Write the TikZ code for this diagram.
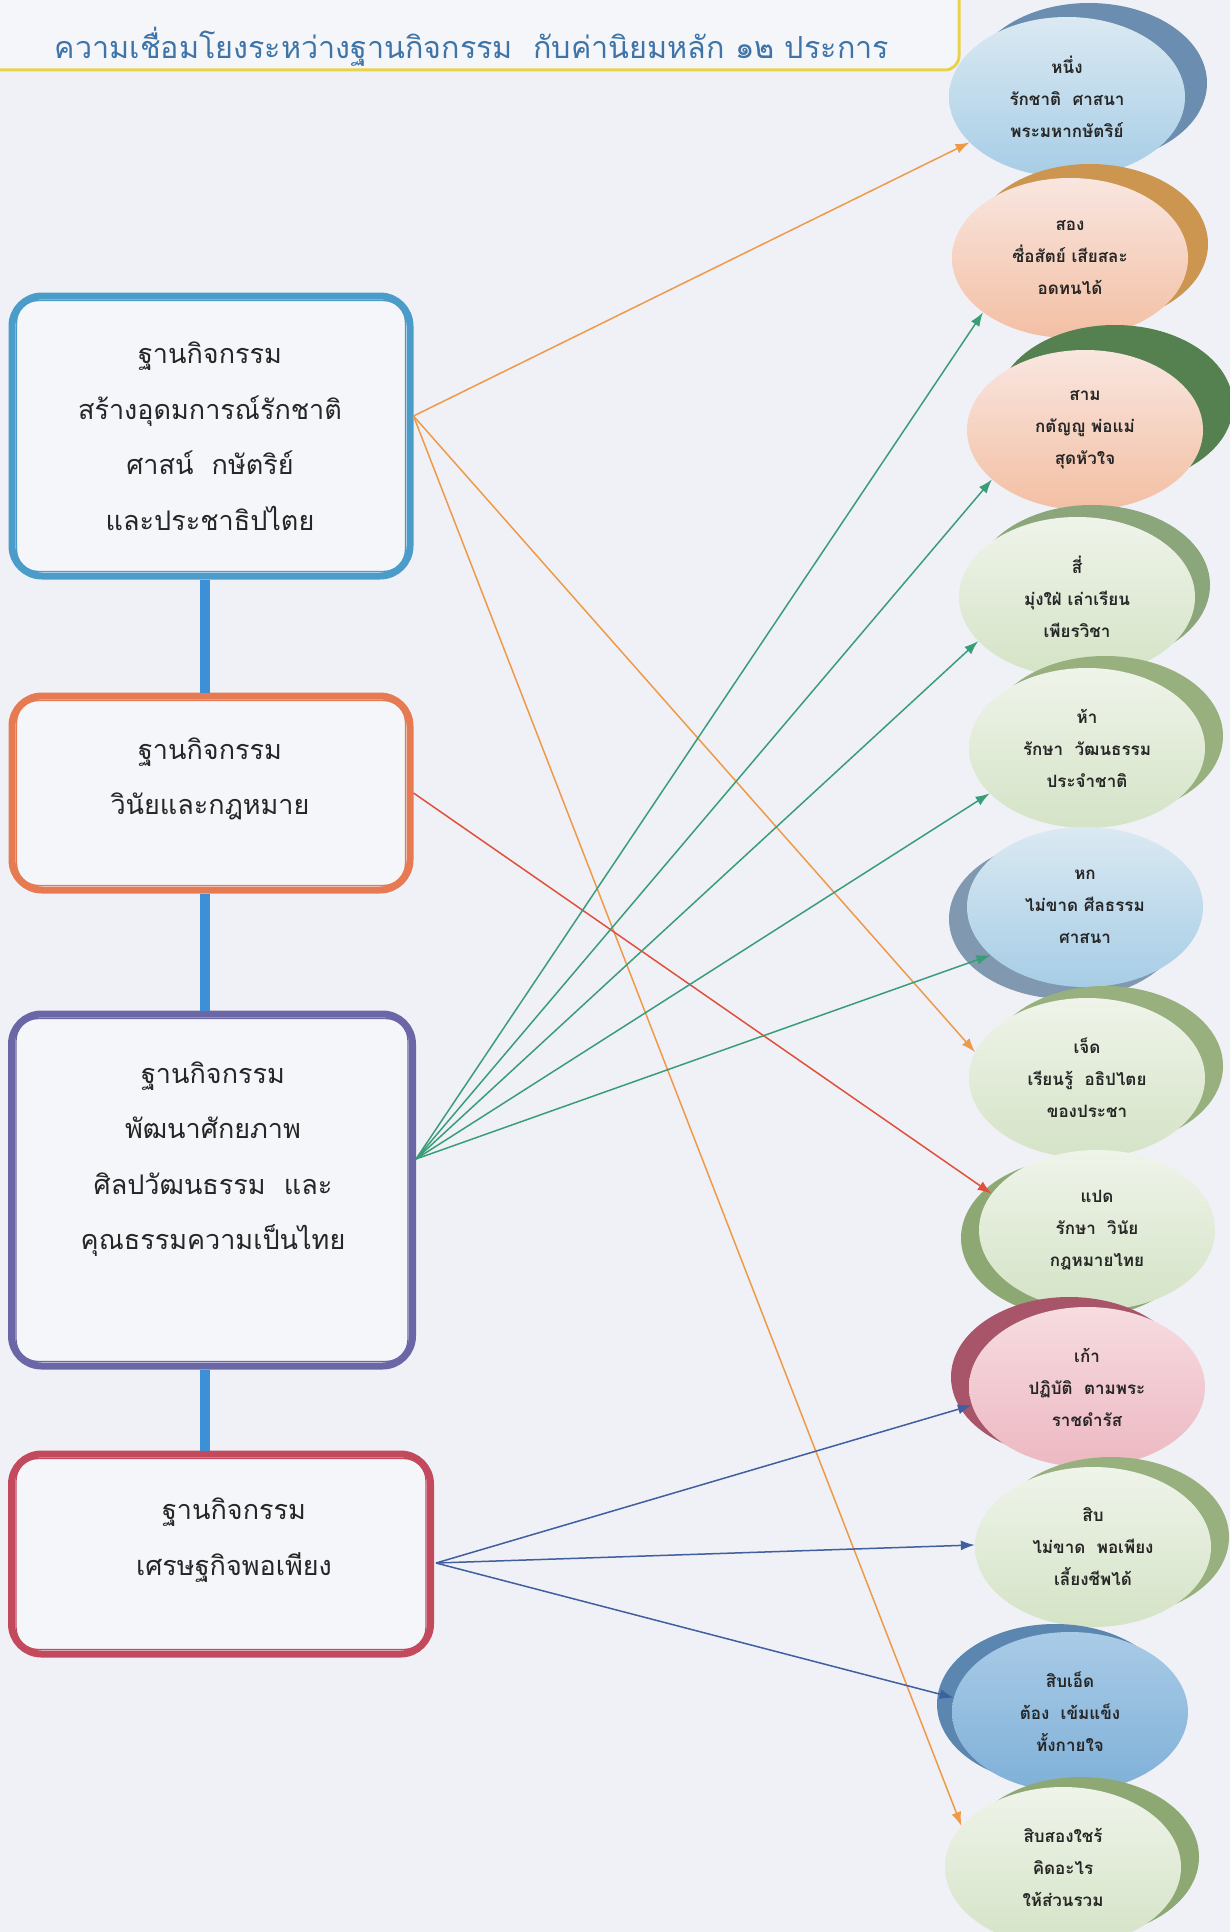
\documentclass[tikz,border=0pt]{standalone}
\usepackage{fontspec}
\newfontfamily\thai[Script=Thai]{Loma}
\usetikzlibrary{shapes.geometric,arrows.meta,calc}
\definecolor{bgc}{HTML}{F0F1F7}
\definecolor{boxfill}{HTML}{F5F6FA}
\definecolor{ylw}{HTML}{E9D34A}
\definecolor{titlec}{HTML}{3F74A8}
\definecolor{cb1}{HTML}{4B9CC9}
\definecolor{cb2}{HTML}{E67A52}
\definecolor{cb3}{HTML}{6B66A6}
\definecolor{cb4}{HTML}{C24A5C}
\definecolor{linkc}{HTML}{3D8FD6}
\definecolor{arrO}{HTML}{EE9A48}
\definecolor{arrR}{HTML}{E0503C}
\definecolor{arrG}{HTML}{3A9D78}
\definecolor{arrB}{HTML}{3F5F9E}
% shadow colours
\definecolor{sh1}{HTML}{6A8DB0}
\definecolor{sh2}{HTML}{CC9550}
\definecolor{sh3}{HTML}{55804F}
\definecolor{sh4}{HTML}{8CA67B}
\definecolor{sh5}{HTML}{97B07D}
\definecolor{sh6}{HTML}{8098B0}
\definecolor{sh7}{HTML}{97B07D}
\definecolor{sh8}{HTML}{8EA873}
\definecolor{sh9}{HTML}{A8556A}
\definecolor{sh10}{HTML}{97B07D}
\definecolor{sh11}{HTML}{5A86B0}
\definecolor{sh12}{HTML}{8EA873}
% fills
\definecolor{blueT}{HTML}{DBE9F2}\definecolor{blueB}{HTML}{A6CDE6}
\definecolor{peachT}{HTML}{F9E6E0}\definecolor{peachB}{HTML}{F3BFA3}
\definecolor{greenT}{HTML}{EFF4EA}\definecolor{greenB}{HTML}{D4E3C6}
\definecolor{pinkT}{HTML}{F6DCE0}\definecolor{pinkB}{HTML}{EDB8C2}
\definecolor{dblueT}{HTML}{A9CBE7}\definecolor{dblueB}{HTML}{7FB0D8}
\newcommand\ovalnode[9]{%
  \fill[#6] ({#2+(#4)},{#3+(#5)}) ellipse [x radius=118, y radius=80];
  \node[oval, top color=#7, bottom color=#8] (#1) at (#2,#3) {#9};
}
\newcommand\basebox[6]{% name, x, y, w, h, color
  \node[basebox, draw=#6, minimum width=#4pt, minimum height=#5pt] (#1) at (#2,#3) {};
  \draw[#6, line width=1.4pt, rounded corners=22pt]
    ([xshift=8pt,yshift=-8pt]#1.north west) rectangle ([xshift=-8pt,yshift=8pt]#1.south east);
}
\begin{document}
\begin{tikzpicture}[x=1pt,y=-1pt,
  oval/.style={ellipse, minimum width=236pt, minimum height=160pt, inner sep=0pt,
    align=center, font=\thai\bfseries\fontsize{17}{32}\selectfont, text=black!85},
  basebox/.style={rectangle, rounded corners=30pt, line width=7pt, fill=boxfill},
  boxtext/.style={align=center, font=\thai\fontsize{27}{55.5}\selectfont, text=black!85},
  titletext/.style={font=\thai\fontsize{30.5}{36}\selectfont, text=titlec},
  link/.style={linkc, line width=10pt},
  conn/.style={line width=1.5pt, -{Latex[length=14pt,width=10pt]}},
]
\useasboundingbox (0,0) rectangle (1230,1932);
\fill[bgc] (0,0) rectangle (1230,1932);

% title
\draw[ylw, line width=3pt, rounded corners=14pt, fill=boxfill] (-30,-30) rectangle (959,70);
\node[titletext] (title) at (472,47) {ความเชื่อมโยงระหว่างฐานกิจกรรม\ \ กับค่านิยมหลัก ๑๒ ประการ};

% boxes
\basebox{b1}{211}{436}{398}{280}{cb1}
\basebox{b2}{211}{793}{398}{194}{cb2}
\basebox{b3}{212}{1190}{401}{352}{cb3}
\basebox{b4}{221}{1554}{419}{200}{cb4}
\node[boxtext] (b1t) at (210,436) {ฐานกิจกรรม\\สร้างอุดมการณ์รักชาติ\\ศาสน์\ \ กษัตริย์\\และประชาธิปไตย};
\node[boxtext] (b2t) at (210,779) {ฐานกิจกรรม\\วินัยและกฎหมาย};
\node[boxtext] (b3t) at (213,1159) {ฐานกิจกรรม\\พัฒนาศักยภาพ\\ศิลปวัฒนธรรม\ \ และ\\คุณธรรมความเป็นไทย};
\node[boxtext] (b4t) at (234,1540) {ฐานกิจกรรม\\เศรษฐกิจพอเพียง};

% vertical links
\draw[link] ([xshift=-6pt]b1.south) -- ([xshift=-6pt]b1.south |- b2.north);
\draw[link] ([xshift=-6pt]b2.south) -- ([xshift=-6pt]b2.south |- b3.north);
\draw[link] ([xshift=-7pt]b3.south) -- ([xshift=-7pt]b3.south |- b4.north);

% ovals
\ovalnode{e1}{1067}{97}{22}{-14}{sh1}{blueT}{blueB}{หนึ่ง\\รักชาติ\ \ ศาสนา\\พระมหากษัตริย์}
\ovalnode{e2}{1070}{258}{20}{-14}{sh2}{peachT}{peachB}{สอง\\ซื่อสัตย์ เสียสละ\\อดทนได้}
\ovalnode{e3}{1085}{430}{30}{-25}{sh3}{peachT}{peachB}{สาม\\กตัญญู พ่อแม่\\สุดหัวใจ}
\ovalnode{e4}{1077}{597}{15}{-12}{sh4}{greenT}{greenB}{สี่\\มุ่งใฝ่ เล่าเรียน\\เพียรวิชา}
\ovalnode{e5}{1087}{748}{18}{-12}{sh5}{greenT}{greenB}{ห้า\\รักษา\ \ วัฒนธรรม\\ประจำชาติ}
\ovalnode{e6}{1085}{907}{-18}{12}{sh6}{blueT}{blueB}{หก\\ไม่ขาด ศีลธรรม\\ศาสนา}
\ovalnode{e7}{1087}{1078}{18}{-12}{sh7}{greenT}{greenB}{เจ็ด\\เรียนรู้\ \ อธิปไตย\\ของประชา}
\ovalnode{e8}{1097}{1230}{-18}{8}{sh8}{greenT}{greenB}{แปด\\รักษา\ \ วินัย\\กฎหมายไทย}
\ovalnode{e9}{1087}{1387}{-18}{-10}{sh9}{pinkT}{pinkB}{เก้า\\ปฏิบัติ\ \ ตามพระ\\ราชดำรัส}
\ovalnode{e10}{1093}{1547}{18}{-10}{sh10}{greenT}{greenB}{สิบ\\ไม่ขาด\ \ พอเพียง\\เลี้ยงชีพได้}
\ovalnode{e11}{1070}{1712}{-15}{-8}{sh11}{dblueT}{dblueB}{สิบเอ็ด\\ต้อง\ \ เข้มแข็ง\\ทั้งกายใจ}
\ovalnode{e12}{1063}{1867}{18}{-10}{sh12}{greenT}{greenB}{สิบสองใชร้\\คิดอะไร\\ให้ส่วนรวม}

% arrow start points
\coordinate (s1) at ([yshift=20pt]b1.east);
\coordinate (s2) at (b2.east);
\coordinate (s3) at ([yshift=31pt]b3.east);
\coordinate (s4) at ([xshift=2pt,yshift=-9pt]b4.east);

% connectors
\draw[conn, arrO] (s1) -- (e1.205);
\draw[conn, arrO] (s1) -- (e7.167);
\draw[conn, arrO] (s1) -- (e12.158);
\draw[conn, arrR] (s2) -- (e8.161);
\draw[conn, arrG] (s3) -- (e2.212);
\draw[conn, arrG] (s3) -- (e3.208);
\draw[conn, arrG] (s3) -- (e4.204);
\draw[conn, arrG] (s3) -- (e5.205);
\draw[conn, arrG] (s3) -- (e6.207);
\draw[conn, arrB] (s4) -- (e9.189);
\draw[conn, arrB] (s4) -- (e10.179);
\draw[conn, arrB] (s4) -- (e11.173);
\end{tikzpicture}
\end{document}
